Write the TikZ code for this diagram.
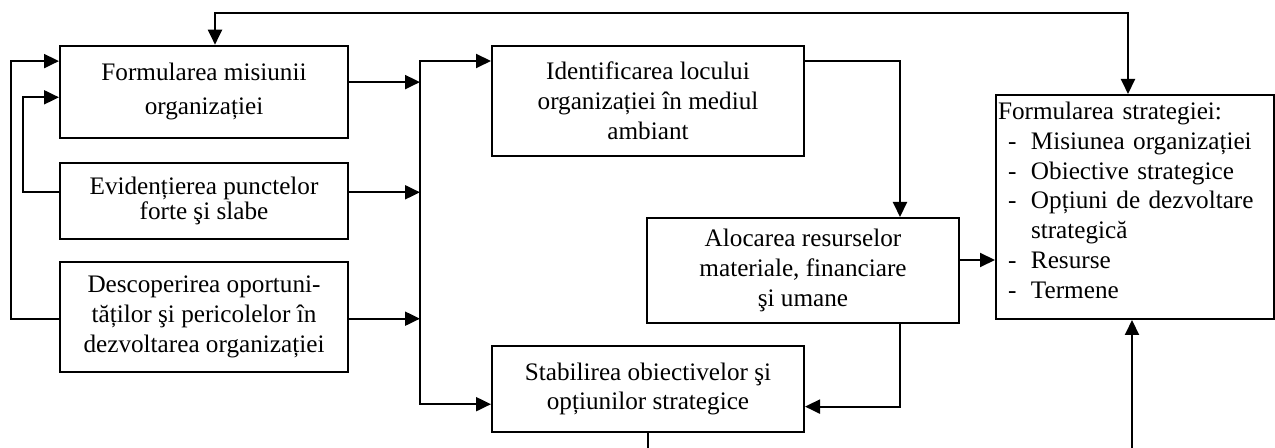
\documentclass[tikz,border=0pt]{standalone}
\usepackage{fontspec}
\setmainfont{Liberation Serif}
\usetikzlibrary{positioning, arrows.meta}
\tikzset{
        ->,  % every connector gets a head
        >={Triangle[length=7.5pt,width=7pt]}, % filled triangle heads
        box/.style={draw, align=center, inner sep=1pt, font=\fontsize{12.6}{14.9}\selectfont},
        listbox/.style={box, align=left, text width=137pt}
        }

\begin{document}
\begin{tikzpicture}[x=0.5pt, y=-0.5pt, line width=1pt]
        \useasboundingbox (0,0) rectangle (1275,448);
        % left column
        \node[box, minimum width=144pt, minimum height=46pt](mis) at (204,91.7){Formularea misiunii\\[2.1pt] organizației};
        \node[box, minimum width=144pt, minimum height=38pt](pct) at (204,201.3){Evidențierea punctelor\\[-2.4pt] forte şi slabe};
        \node[box, minimum width=144pt, minimum height=55pt](opt) at (204,316.7){Descoperirea oportuni-\\ tăților şi pericolelor în\\ dezvoltarea organizației};
        % middle column
        \node[box, minimum width=156pt, minimum height=55pt](loc) at (648,100.8){Identificarea locului\\ organizației în mediul\\ ambiant};
        \node[box, minimum width=156pt, minimum height=52.5pt](aloc) at (803,270.5){Alocarea resurselor\\ materiale, financiare\\ şi umane};
        \node[box, minimum width=156pt, minimum height=43pt](obj) at (648,389){Stabilirea obiectivelor şi\\ opțiunilor strategice};
        % right box
        \node[listbox, minimum width=139pt, minimum height=112pt](strat) at (1135,207){Formularea strategiei:\\
              \hspace*{5pt}\makebox[11.5pt][l]{-}Misiunea organizației\\
              \hspace*{5pt}\makebox[11.5pt][l]{-}Obiective strategice\\
              \hspace*{5pt}\makebox[11.5pt][l]{-}Opțiuni de dezvoltare\\
              \hspace*{16.5pt}strategică\\
              \hspace*{5pt}\makebox[11.5pt][l]{-}Resurse\\
              \hspace*{5pt}\makebox[11.5pt][l]{-}Termene\\[-8pt]\mbox{}};

        \coordinate (bus) at (420,0);
        \coordinate (top) at (0,13);
        \coordinate (outE) at (648,448);
        \coordinate (inF) at (1132,448);

        % into the bus
        \draw ([yshift=4.8pt]mis.east) -- ([yshift=4.8pt]mis.east -| bus);
        \draw ([yshift=4.5pt]pct.east) -- ([yshift=4.5pt]pct.east -| bus);
        \draw ([yshift=-1pt]opt.east) -- ([yshift=-1pt]opt.east -| bus);
        \draw[<->] ([yshift=19.9pt]loc.west) -| ([yshift=-7.6pt]obj.west -| bus) -- ([yshift=-7.6pt]obj.west);
        % feedback on the left
        \draw ([yshift=-1pt]opt.west) -- ++(-48,0) |- ([yshift=15.3pt]mis.west);
        \draw ([yshift=4.5pt]pct.west) -- ++(-36,0) |- ([yshift=-2.8pt]mis.west);
        % right side
        \draw ([yshift=19.9pt]loc.east) -| ([xshift=48.5pt]aloc.north);
        \draw ([yshift=5.25pt]aloc.east) -- ([yshift=5.25pt]aloc.east -| strat.west);
        \draw ([xshift=48.5pt]aloc.south) |- ([yshift=-8.8pt]obj.east);
        \draw[<->] ([xshift=5.5pt]mis.north) -- ([xshift=5.5pt]mis.north |- top) -| ([xshift=-3.5pt]strat.north);
        % leaving at the bottom
        \draw[-] (obj.south) -- (obj.south |- outE);
        \draw (inF) -- (inF |- strat.south);
\end{tikzpicture}
\end{document}
